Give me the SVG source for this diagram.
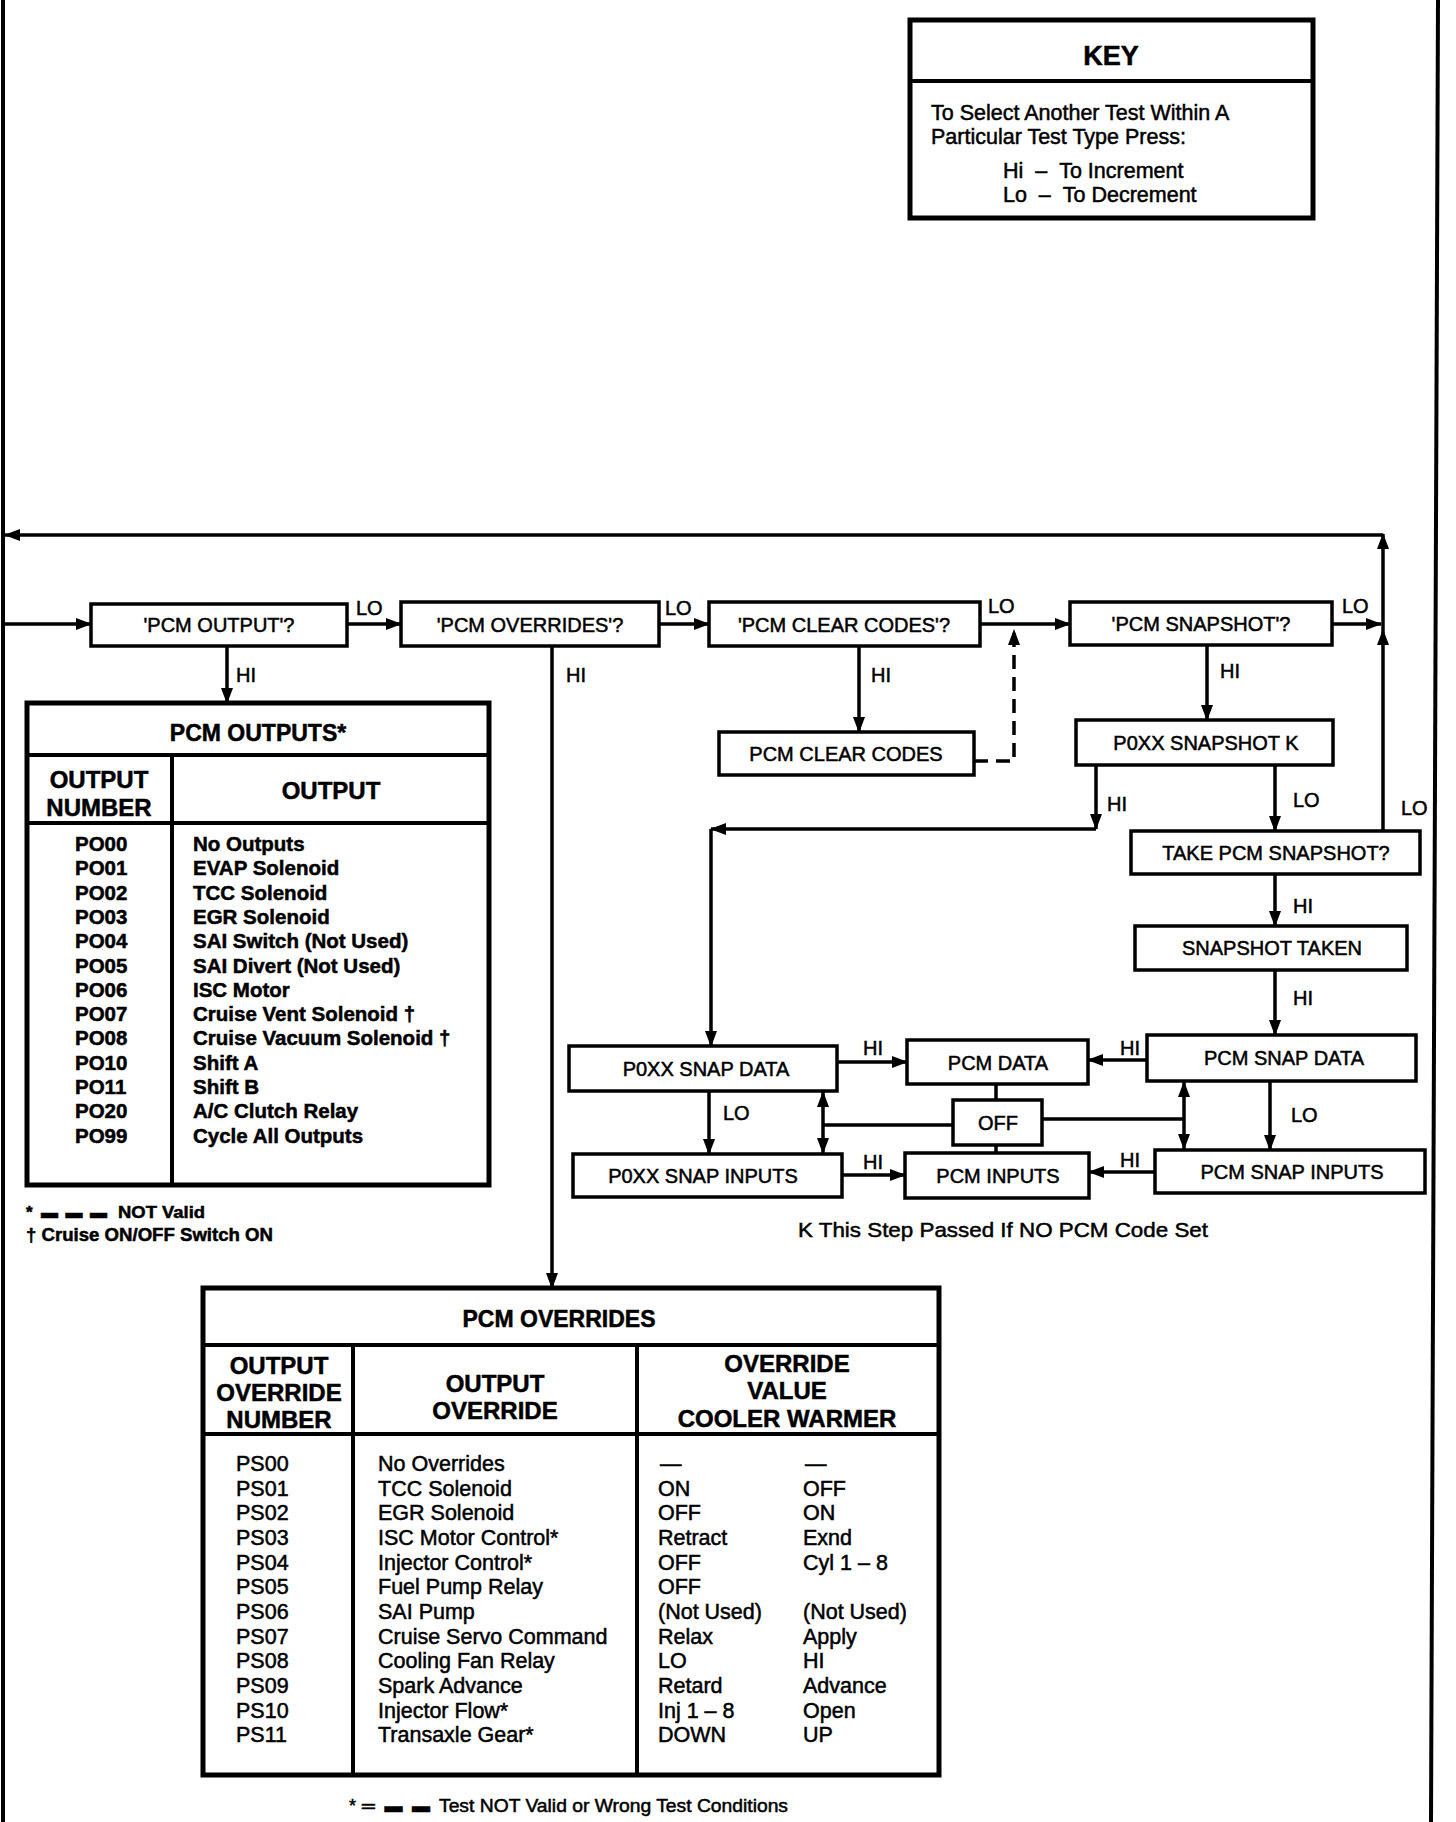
<svg xmlns="http://www.w3.org/2000/svg" width="1456" height="1822" viewBox="0 0 1456 1822">
<style>
.t{font-family:"Liberation Sans",Arial,"DejaVu Sans",sans-serif;fill:#000;stroke:#000;stroke-width:0.5}
.b{font-weight:bold}
.m{text-anchor:middle}
.box{fill:#fff;stroke:#000;stroke-width:3.5}
.tbl{fill:#fff;stroke:#000;stroke-width:5}
.div{stroke:#000;stroke-width:4;fill:none}
.c{stroke:#000;stroke-width:3.5;fill:none}
.arr{marker-end:url(#ah)}
.dbl{marker-end:url(#ah);marker-start:url(#ah)}
.lbl{font-size:20px}
.bl{font-size:20px}
.hd{font-size:24px;font-weight:bold}
</style>
<defs>
<marker id="ah" markerUnits="userSpaceOnUse" viewBox="0 0 16 12" markerWidth="16" markerHeight="12" refX="15" refY="6" orient="auto-start-reverse">
<path d="M0,0 L16,6 L0,12 z" fill="#000"/>
</marker>
</defs>
<rect width="1456" height="1822" fill="#fff"/>

<!-- page borders -->
<g id="borders">
<line x1="3" y1="0" x2="3" y2="1822" stroke="#000" stroke-width="4"/>
<line x1="1438" y1="0" x2="1431" y2="1822" stroke="#000" stroke-width="4"/>
</g>

<!-- KEY -->
<g id="key">
<rect x="910" y="20" width="403" height="198" class="tbl"/>
<line x1="910" y1="81" x2="1313" y2="81" class="div"/>
<text x="1111" y="65" class="t b m" font-size="27">KEY</text>
<text x="931" y="120" class="t" font-size="21.5">To Select Another Test Within A</text>
<text x="931" y="144" class="t" font-size="21.5">Particular Test Type Press:</text>
<text x="1003" y="178" class="t" font-size="21.5">Hi &#160;– &#160;To Increment</text>
<text x="1003" y="202" class="t" font-size="21.5">Lo &#160;– &#160;To Decrement</text>
</g>

<!-- connectors -->
<g id="connectors">
<path d="M1383,831 V630" class="c arr"/>
<path d="M1383,630 V534" class="c arr"/>
<path d="M1383,535 H5" class="c arr"/>
<path d="M5,624 H91" class="c arr"/>
<path d="M347,624 H401" class="c arr"/>
<path d="M659,624 H709" class="c arr"/>
<path d="M980,624 H1070" class="c arr"/>
<path d="M1332,624 H1381" class="c arr"/>
<path d="M227,646 V703" class="c arr"/>
<path d="M552,646 V1288" class="c arr"/>
<path d="M859,646 V732" class="c arr"/>
<path d="M974,761 H1014 V630" class="c arr" stroke-dasharray="14,8"/>
<path d="M1207,645 V720" class="c arr"/>
<path d="M1096,765 V829" class="c arr"/>
<path d="M1096,829 H711" class="c arr"/>
<path d="M711,829 V1046" class="c arr"/>
<path d="M1275,765 V831" class="c arr"/>
<path d="M1275,874 V926" class="c arr"/>
<path d="M1275,970 V1035" class="c arr"/>
<path d="M1270,1081 V1150" class="c arr"/>
<path d="M837,1062 H907" class="c arr"/>
<path d="M1147,1060 H1088" class="c arr"/>
<path d="M842,1175 H905" class="c arr"/>
<path d="M1155,1172 H1089" class="c arr"/>
<path d="M709,1091 V1154" class="c arr"/>
<path d="M823,1092 V1153" class="c dbl"/>
<path d="M1184,1082 V1149" class="c dbl"/>
<path d="M996,1084 V1100 M996,1145 V1153 M953,1125 H823 M1042,1119 H1184" class="c"/>
<text x="356" y="615" class="t lbl">LO</text>
<text x="665" y="615" class="t lbl">LO</text>
<text x="988" y="613" class="t lbl">LO</text>
<text x="1342" y="613" class="t lbl">LO</text>
<text x="236" y="682" class="t lbl">HI</text>
<text x="566" y="682" class="t lbl">HI</text>
<text x="871" y="682" class="t lbl">HI</text>
<text x="1220" y="678" class="t lbl">HI</text>
<text x="1107" y="811" class="t lbl">HI</text>
<text x="1293" y="807" class="t lbl">LO</text>
<text x="1401" y="815" class="t lbl">LO</text>
<text x="1293" y="913" class="t lbl">HI</text>
<text x="1293" y="1005" class="t lbl">HI</text>
<text x="1291" y="1122" class="t lbl">LO</text>
<text x="863" y="1055" class="t lbl">HI</text>
<text x="1120" y="1055" class="t lbl">HI</text>
<text x="863" y="1169" class="t lbl">HI</text>
<text x="1120" y="1167" class="t lbl">HI</text>
<text x="723" y="1120" class="t lbl">LO</text>
</g>

<!-- flow nodes -->
<g id="pcm-output-q"><rect x="91" y="604" width="256" height="42" class="box"/><text x="219" y="632" class="t m bl">'PCM OUTPUT'?</text></g>
<g id="pcm-overrides-q"><rect x="401" y="602" width="258" height="44" class="box"/><text x="530" y="632" class="t m bl">'PCM OVERRIDES'?</text></g>
<g id="pcm-clear-codes-q"><rect x="709" y="602" width="271" height="44" class="box"/><text x="844" y="632" class="t m bl">'PCM CLEAR CODES'?</text></g>
<g id="pcm-snapshot-q"><rect x="1070" y="602" width="262" height="43" class="box"/><text x="1201" y="631" class="t m bl">'PCM SNAPSHOT'?</text></g>
<g id="pcm-clear-codes"><rect x="719" y="732" width="255" height="43" class="box"/><text x="846" y="761" class="t m bl">PCM CLEAR CODES</text></g>
<g id="p0xx-snapshot-k"><rect x="1076" y="720" width="257" height="45" class="box"/><text x="1206" y="750" class="t m bl">P0XX SNAPSHOT K</text></g>
<g id="take-pcm-snapshot"><rect x="1131" y="831" width="289" height="43" class="box"/><text x="1276" y="860" class="t m bl">TAKE PCM SNAPSHOT?</text></g>
<g id="snapshot-taken"><rect x="1135" y="926" width="272" height="44" class="box"/><text x="1272" y="955" class="t m bl">SNAPSHOT TAKEN</text></g>
<g id="pcm-snap-data"><rect x="1147" y="1035" width="269" height="46" class="box"/><text x="1284" y="1065" class="t m bl">PCM SNAP DATA</text></g>
<g id="pcm-snap-inputs"><rect x="1155" y="1150" width="270" height="43" class="box"/><text x="1292" y="1179" class="t m bl">PCM SNAP INPUTS</text></g>
<g id="p0xx-snap-data"><rect x="569" y="1046" width="268" height="45" class="box"/><text x="706" y="1076" class="t m bl">P0XX SNAP DATA</text></g>
<g id="p0xx-snap-inputs"><rect x="573" y="1154" width="269" height="43" class="box"/><text x="703" y="1183" class="t m bl">P0XX SNAP INPUTS</text></g>
<g id="pcm-data"><rect x="907" y="1040" width="181" height="44" class="box"/><text x="998" y="1070" class="t m bl">PCM DATA</text></g>
<g id="pcm-inputs"><rect x="905" y="1153" width="184" height="45" class="box"/><text x="998" y="1183" class="t m bl">PCM INPUTS</text></g>
<g id="off"><rect x="953" y="1100" width="89" height="45" class="box"/><text x="998" y="1130" class="t m bl">OFF</text></g>

<text id="note-k" x="798" y="1237" class="t" font-size="21" textLength="410" lengthAdjust="spacingAndGlyphs">K  This Step Passed If NO PCM Code Set</text>

<!-- PCM OUTPUTS table -->
<g id="pcm-outputs">
<rect x="27" y="703" width="462" height="482" class="tbl"/>
<line x1="27" y1="755" x2="489" y2="755" class="div"/>
<line x1="27" y1="823" x2="489" y2="823" class="div"/>
<line x1="172" y1="755" x2="172" y2="1185" class="div"/>
<text x="258" y="741" class="t b m" font-size="23">PCM OUTPUTS*</text>
<text x="99" y="788" class="t m hd">OUTPUT</text>
<text x="99" y="816" class="t m hd">NUMBER</text>
<text x="331" y="799" class="t m hd">OUTPUT</text>
<g class="t b" font-size="20.5">
<text x="75" y="851">PO00</text><text x="193" y="851">No Outputs</text>
<text x="75" y="875">PO01</text><text x="193" y="875">EVAP Solenoid</text>
<text x="75" y="900">PO02</text><text x="193" y="900">TCC Solenoid</text>
<text x="75" y="924">PO03</text><text x="193" y="924">EGR Solenoid</text>
<text x="75" y="948">PO04</text><text x="193" y="948">SAI Switch (Not Used)</text>
<text x="75" y="973">PO05</text><text x="193" y="973">SAI Divert (Not Used)</text>
<text x="75" y="997">PO06</text><text x="193" y="997">ISC Motor</text>
<text x="75" y="1021">PO07</text><text x="193" y="1021">Cruise Vent Solenoid †</text>
<text x="75" y="1045">PO08</text><text x="193" y="1045">Cruise Vacuum Solenoid †</text>
<text x="75" y="1070">PO10</text><text x="193" y="1070">Shift A</text>
<text x="75" y="1094">PO11</text><text x="193" y="1094">Shift B</text>
<text x="75" y="1118">PO20</text><text x="193" y="1118">A/C Clutch Relay</text>
<text x="75" y="1143">PO99</text><text x="193" y="1143">Cycle All Outputs</text>
</g>
<text x="26" y="1218" class="t b" font-size="17">*<tspan x="41" textLength="66" lengthAdjust="spacing">▬ ▬ ▬</tspan><tspan x="118" textLength="87" lengthAdjust="spacingAndGlyphs">NOT Valid</tspan></text>
<text x="26" y="1241" class="t b" font-size="18" textLength="247" lengthAdjust="spacingAndGlyphs">† Cruise ON/OFF Switch ON</text>
</g>

<!-- PCM OVERRIDES table -->
<g id="pcm-overrides">
<rect x="203" y="1288" width="736" height="487" class="tbl"/>
<line x1="203" y1="1345" x2="939" y2="1345" class="div"/>
<line x1="203" y1="1434" x2="939" y2="1434" class="div"/>
<line x1="353" y1="1345" x2="353" y2="1775" class="div"/>
<line x1="637" y1="1345" x2="637" y2="1775" class="div"/>
<text x="559" y="1327" class="t b m" font-size="23">PCM OVERRIDES</text>
<text x="279" y="1374" class="t m hd">OUTPUT</text>
<text x="279" y="1401" class="t m hd">OVERRIDE</text>
<text x="279" y="1428" class="t m hd">NUMBER</text>
<text x="495" y="1392" class="t m hd">OUTPUT</text>
<text x="495" y="1419" class="t m hd">OVERRIDE</text>
<text x="787" y="1372" class="t m hd">OVERRIDE</text>
<text x="787" y="1399" class="t m hd">VALUE</text>
<text x="787" y="1427" class="t m hd">COOLER WARMER</text>
<g class="t" font-size="21.5">
<text x="236" y="1471">PS00</text><text x="378" y="1471">No Overrides</text><text x="660" y="1471">—</text><text x="805" y="1471">—</text>
<text x="236" y="1496">PS01</text><text x="378" y="1496">TCC Solenoid</text><text x="658" y="1496">ON</text><text x="803" y="1496">OFF</text>
<text x="236" y="1520">PS02</text><text x="378" y="1520">EGR Solenoid</text><text x="658" y="1520">OFF</text><text x="803" y="1520">ON</text>
<text x="236" y="1545">PS03</text><text x="378" y="1545">ISC Motor Control*</text><text x="658" y="1545">Retract</text><text x="803" y="1545">Exnd</text>
<text x="236" y="1570">PS04</text><text x="378" y="1570">Injector Control*</text><text x="658" y="1570">OFF</text><text x="803" y="1570">Cyl 1 – 8</text>
<text x="236" y="1594">PS05</text><text x="378" y="1594">Fuel Pump Relay</text><text x="658" y="1594">OFF</text>
<text x="236" y="1619">PS06</text><text x="378" y="1619">SAI Pump</text><text x="658" y="1619">(Not Used)</text><text x="803" y="1619">(Not Used)</text>
<text x="236" y="1644">PS07</text><text x="378" y="1644">Cruise Servo Command</text><text x="658" y="1644">Relax</text><text x="803" y="1644">Apply</text>
<text x="236" y="1668">PS08</text><text x="378" y="1668">Cooling Fan Relay</text><text x="658" y="1668">LO</text><text x="803" y="1668">HI</text>
<text x="236" y="1693">PS09</text><text x="378" y="1693">Spark Advance</text><text x="658" y="1693">Retard</text><text x="803" y="1693">Advance</text>
<text x="236" y="1718">PS10</text><text x="378" y="1718">Injector Flow*</text><text x="658" y="1718">Inj 1 – 8</text><text x="803" y="1718">Open</text>
<text x="236" y="1742">PS11</text><text x="378" y="1742">Transaxle Gear*</text><text x="658" y="1742">DOWN</text><text x="803" y="1742">UP</text>
</g>
<text x="349" y="1812" class="t" font-size="18">*<tspan x="362" textLength="68" lengthAdjust="spacing">═ ▬ ▬</tspan><tspan x="439" textLength="349" lengthAdjust="spacingAndGlyphs">Test NOT Valid or Wrong Test Conditions</tspan></text>
</g>
</svg>
